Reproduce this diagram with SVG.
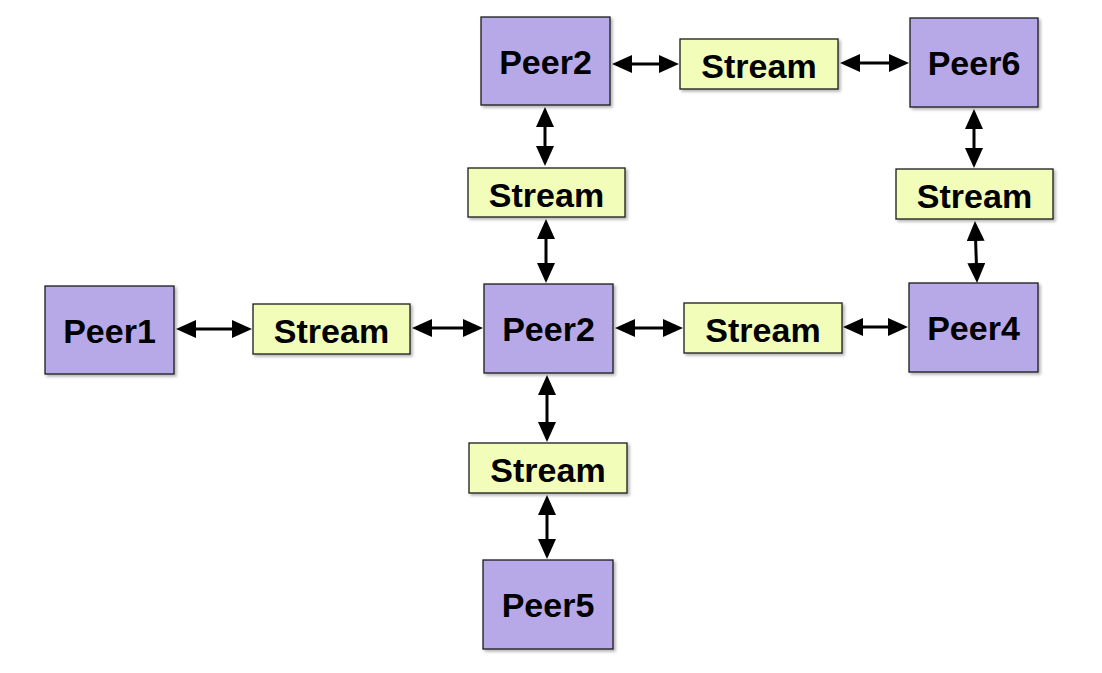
<svg xmlns="http://www.w3.org/2000/svg" width="1102" height="673" viewBox="0 0 1102 673">
<style>
.peer{fill:#b7a8e8;stroke:#1a1a1a;stroke-width:1.3;filter:url(#sh)}
.stream{fill:#f1fdb9;stroke:#1a1a1a;stroke-width:1.3;filter:url(#sh)}
text{font-family:"Liberation Sans",Arial,sans-serif;font-weight:bold;font-size:34px;fill:#000;text-anchor:middle}
.conn line{stroke:#000;stroke-width:3;marker-start:url(#ah);marker-end:url(#ah)}
</style>
<defs>
<filter id="sh" x="-10%" y="-10%" width="130%" height="130%">
<feDropShadow dx="2" dy="2" stdDeviation="1.5" flood-color="#000" flood-opacity="0.3"/>
</filter>
<marker id="ah" markerUnits="userSpaceOnUse" viewBox="0 0 20 18" markerWidth="20" markerHeight="18" refX="10" refY="9" orient="auto-start-reverse">
<path d="M0,0 L20,9 L0,18 z" fill="#000"/>
</marker>
</defs>
<rect width="1102" height="673" fill="#fff"/>
<g class="conn" id="connectors">
<line x1="186" y1="329" x2="242" y2="329"/>
<line x1="422" y1="328" x2="473" y2="328"/>
<line x1="625" y1="328" x2="673" y2="328"/>
<line x1="853" y1="327" x2="898" y2="327"/>
<line x1="622" y1="64" x2="669" y2="64"/>
<line x1="850" y1="63" x2="899" y2="63"/>
<line x1="545" y1="117" x2="545" y2="156"/>
<line x1="546" y1="229" x2="546" y2="273"/>
<line x1="547" y1="385" x2="547" y2="432"/>
<line x1="547" y1="505" x2="547" y2="549"/>
<line x1="974" y1="119" x2="974" y2="158"/>
<line x1="975.3" y1="231" x2="976.7" y2="273"/>
</g>
<g id="peer2top"><rect class="peer" x="481" y="17" width="129" height="88"/><text x="545.5" y="74">Peer2</text></g>
<g id="stream1"><rect class="stream" x="680" y="39" width="158" height="50"/><text x="759" y="78">Stream</text></g>
<g id="peer6"><rect class="peer" x="910" y="18" width="128" height="89"/><text x="974" y="75">Peer6</text></g>
<g id="stream2"><rect class="stream" x="468" y="168" width="157" height="49"/><text x="546.5" y="207">Stream</text></g>
<g id="stream3"><rect class="stream" x="896" y="169" width="157" height="50"/><text x="974.5" y="208">Stream</text></g>
<g id="peer1"><rect class="peer" x="45" y="286" width="129" height="88"/><text x="109.5" y="343">Peer1</text></g>
<g id="stream4"><rect class="stream" x="253" y="304" width="157" height="50"/><text x="331.5" y="343">Stream</text></g>
<g id="peer2"><rect class="peer" x="484" y="284" width="129" height="89"/><text x="548.5" y="341">Peer2</text></g>
<g id="stream5"><rect class="stream" x="684" y="303" width="158" height="50"/><text x="763" y="342">Stream</text></g>
<g id="peer4"><rect class="peer" x="909" y="283" width="129" height="89"/><text x="973.5" y="340">Peer4</text></g>
<g id="stream6"><rect class="stream" x="469" y="443" width="158" height="50"/><text x="548" y="482">Stream</text></g>
<g id="peer5"><rect class="peer" x="483" y="560" width="130" height="89"/><text x="548" y="617">Peer5</text></g>
</svg>
